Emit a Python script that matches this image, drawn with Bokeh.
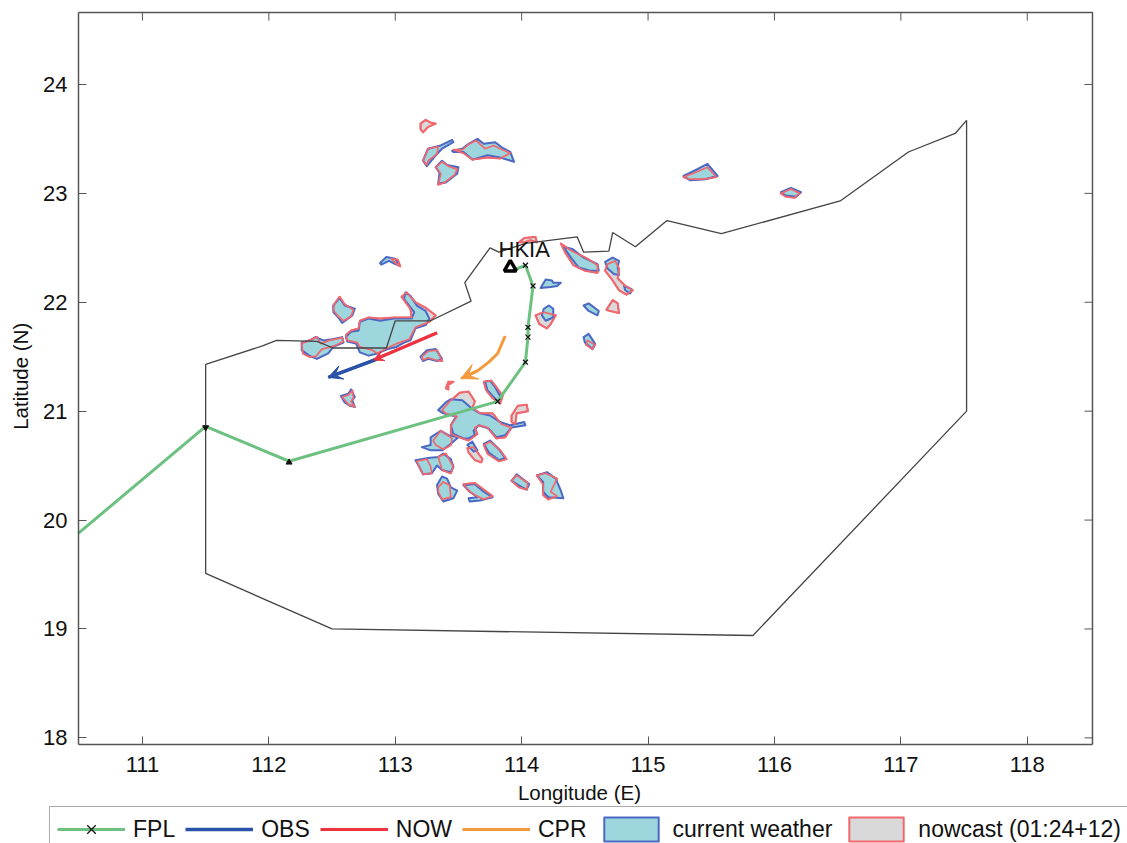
import math
from bokeh.plotting import figure
from bokeh.models import Legend, LegendItem, Arrow, VeeHead, FixedTicker, Range1d, LinearAxis
from bokeh.core.properties import value
from bokeh.embed import file_html
from bokeh.resources import INLINE

FONT = "Liberation Sans"
x_ticks = [111, 112, 113, 114, 115, 116, 117, 118]
y_ticks = [18, 19, 20, 21, 22, 23, 24]
x_lim = (110.494, 118.516)
y_lim = (17.94, 24.66)
# the drawing area spans the whole page so that the legend below the axes is not clipped
page_x = (109.877, 118.793)
page_y = (17.03, 24.771)

boundary_lon = [111.5, 111.95, 112.06, 112.38, 112.51, 112.93, 113.0, 113.28, 113.6, 113.55, 113.75, 113.82, 114.03, 114.44, 114.49, 114.69, 114.72, 114.9, 115.15, 115.58, 116.52, 117.06, 117.43, 117.52, 117.52, 115.83, 112.5, 111.5, 111.5]
boundary_lat = [21.43, 21.6, 21.65, 21.64, 21.58, 21.58, 21.83, 21.83, 22.01, 22.18, 22.5, 22.46, 22.54, 22.6, 22.46, 22.47, 22.64, 22.51, 22.75, 22.63, 22.93, 23.38, 23.55, 23.67, 21.0, 18.94, 19.0, 19.51, 21.43]

fpl_lon = [110.494, 111.5, 112.16, 113.81, 114.03, 114.05, 114.05, 114.09, 114.03, 113.93]
fpl_lat = [19.88, 20.86, 20.54, 21.09, 21.45, 21.68, 21.77, 22.15, 22.34, 22.29]
wpt_lon = [113.81, 114.03, 114.05, 114.05, 114.09, 114.03]
wpt_lat = [21.09, 21.45, 21.68, 21.77, 22.15, 22.34]
wpt2_lon = [111.5]
wpt2_lat = [20.85]
wpt3_lon = [112.16]
wpt3_lat = [20.53]

obs_lon = [112.86, 112.47]
obs_lat = [21.48, 21.31]
now_lon = [113.33, 112.83]
now_lat = [21.72, 21.47]
cpr_lon = [113.87, 113.81, 113.74, 113.65, 113.52]
cpr_lat = [21.69, 21.53, 21.45, 21.37, 21.3]

current_lons = [
 [112.61,112.65,112.71,112.72,112.79,112.88,112.99,113.13,113.15,113.11,113.07,113.08,113.12,113.17,113.24,113.27,113.24,113.16,113.12,113.07,113.01,112.94,112.86,112.79,112.72,112.69,112.62],
 [112.26,112.33,112.37,112.43,112.50,112.58,112.59,112.51,112.47,112.38,112.32,112.26],
 [112.51,112.56,112.60,112.68,112.66,112.58,112.55,112.51],
 [112.88,112.93,113.0,113.03,113.0,112.95,112.89],
 [113.20,113.25,113.32,113.37,113.33,113.26,113.22],
 [112.57,112.63,112.65,112.68,112.66,112.68,112.64,112.60],
 [113.71,113.75,113.79,113.83,113.82,113.77,113.73],
 [113.34,113.40,113.44,113.53,113.61,113.67,113.75,113.83,113.91,114.02,114.03,113.92,113.87,113.80,113.74,113.66,113.62,113.63,113.58,113.54,113.46,113.44,113.48,113.38],
 [113.21,113.28,113.28,113.36,113.42,113.50,113.44,113.37,113.28],
 [113.57,113.61,113.65,113.62],
 [113.70,113.75,113.82,113.87,113.82,113.74],
 [113.16,113.26,113.34,113.38,113.44,113.46,113.44,113.37,113.33,113.29,113.22,113.19],
 [113.33,113.37,113.41,113.44,113.49,113.46,113.38,113.34],
 [113.54,113.63,113.70,113.77,113.67,113.59,113.58,113.65,113.59],
 [113.92,113.96,114.06,114.04,113.99],
 [114.12,114.20,114.27,114.31,114.33,114.21,114.17,114.17],
 [113.22,113.26,113.36,113.45,113.46,113.37,113.32,113.25],
 [113.32,113.37,113.41,113.50,113.49,113.40,113.34,113.35],
 [113.45,113.53,113.58,113.65,113.70,113.79,113.84,113.91,113.94,113.83,113.73,113.61,113.54,113.46],
 [115.28,115.37,115.47,115.55,115.45,115.33],
 [116.05,116.13,116.21,116.17,116.09],
 [114.33,114.40,114.49,114.60,114.61,114.54,114.45,114.39],
 [114.66,114.72,114.77,114.76,114.77,114.73,114.68],
 [114.81,114.87,114.86,114.82],
 [114.15,114.19,114.24,114.25,114.31,114.28,114.23],
 [114.175,114.215,114.25,114.25,114.19,114.16],
 [114.49,114.53,114.61,114.60,114.53],
 [114.49,114.53,114.58,114.56,114.50],
]
current_lats = [
 [21.68,21.73,21.74,21.82,21.85,21.83,21.85,21.85,21.91,21.97,22.03,22.09,22.06,21.97,21.92,21.85,21.79,21.76,21.65,21.63,21.59,21.57,21.53,21.51,21.54,21.62,21.64],
 [21.63,21.65,21.68,21.65,21.66,21.68,21.63,21.59,21.53,21.48,21.51,21.56],
 [21.97,22.04,21.97,21.94,21.88,21.81,21.86,21.91],
 [22.36,22.415,22.40,22.34,22.35,22.38,22.345],
 [21.50,21.56,21.57,21.48,21.46,21.48,21.46],
 [21.14,21.16,21.20,21.13,21.10,21.04,21.05,21.08],
 [21.27,21.28,21.22,21.14,21.08,21.14,21.19],
 [21.01,21.08,21.11,21.10,21.02,20.98,20.96,20.90,20.87,20.90,20.87,20.85,20.78,20.76,20.84,20.87,20.82,20.78,20.75,20.75,20.79,20.87,20.95,20.98],
 [20.67,20.69,20.76,20.82,20.78,20.76,20.70,20.64,20.64],
 [20.69,20.72,20.64,20.63],
 [20.70,20.73,20.65,20.57,20.55,20.62],
 [20.55,20.57,20.58,20.61,20.56,20.49,20.44,20.46,20.50,20.43,20.42,20.49],
 [20.32,20.40,20.38,20.30,20.27,20.20,20.17,20.24],
 [20.32,20.33,20.26,20.21,20.18,20.17,20.20,20.21,20.26],
 [20.36,20.42,20.33,20.28,20.31],
 [20.41,20.44,20.38,20.27,20.20,20.21,20.26,20.35],
 [23.30,23.41,23.44,23.49,23.47,23.41,23.35,23.25],
 [23.24,23.30,23.26,23.24,23.18,23.10,23.09,23.19],
 [23.39,23.41,23.455,23.50,23.455,23.47,23.425,23.38,23.29,23.33,23.35,23.31,23.38,23.38],
 [23.16,23.21,23.27,23.16,23.13,23.12],
 [23.01,23.05,23.01,22.97,22.98],
 [22.51,22.49,22.41,22.35,22.29,22.29,22.32,22.41],
 [22.37,22.41,22.38,22.32,22.25,22.26,22.31],
 [22.15,22.12,22.08,22.11],
 [22.13,22.21,22.2,22.18,22.18,22.15,22.14],
 [21.94,21.97,21.94,21.86,21.83,21.88],
 [21.97,21.99,21.92,21.88,21.92],
 [21.68,21.71,21.62,21.57,21.63],
]

nowcast_lons = [
 [112.61,112.65,112.71,112.72,112.79,112.88,112.99,113.13,113.12,113.05,113.09,113.16,113.24,113.32,113.27,113.16,113.11,113.01,112.92,112.86,112.82,112.72,112.70,112.62],
 [112.26,112.34,112.38,112.41,112.48,112.58,112.59,112.52,112.42,112.37,112.32,112.27],
 [112.51,112.56,112.60,112.67,112.65,112.59,112.55,112.515],
 [112.97,113.02,113.04,113.0],
 [113.21,113.26,113.33,113.37,113.32,113.26,113.22],
 [112.58,112.63,112.66,112.67,112.65,112.68,112.63],
 [113.40,113.42,113.46,113.42,113.42],
 [113.70,113.76,113.80,113.85,113.83,113.77,113.72],
 [113.37,113.44,113.51,113.58,113.63,113.61,113.67,113.77,113.84,113.92,113.87,113.80,113.73,113.67,113.63,113.65,113.58,113.53,113.44,113.44,113.49,113.40],
 [113.92,113.92,113.97,114.04,114.05,113.96,113.95],
 [113.30,113.36,113.45,113.44,113.38,113.32],
 [113.57,113.62,113.69,113.68,113.63,113.58],
 [113.70,113.75,113.83,113.88,113.82,113.73],
 [113.17,113.25,113.28,113.29,113.22,113.19],
 [113.34,113.40,113.46,113.44,113.37],
 [113.34,113.38,113.43,113.44,113.37,113.34],
 [113.54,113.63,113.71,113.77,113.70,113.63,113.58],
 [113.92,113.96,114.05,114.04,113.98],
 [114.12,114.19,114.28,114.23,114.28,114.21,114.17,114.17],
 [113.20,113.24,113.28,113.32,113.26,113.22,113.20],
 [113.22,113.26,113.34,113.33,113.26,113.25],
 [113.32,113.37,113.42,113.49,113.47,113.39,113.34,113.36],
 [113.46,113.53,113.58,113.64,113.71,113.78,113.83,113.91,113.83,113.73,113.61,113.54],
 [115.28,115.37,115.47,115.54,115.44,115.33],
 [116.05,116.13,116.2,116.16,116.09],
 [114.31,114.39,114.52,114.60,114.60,114.50,114.41,114.35],
 [114.68,114.74,114.77,114.76,114.82,114.88,114.83,114.77,114.72,114.66],
 [114.11,114.175,114.27,114.23,114.2,114.14],
 [114.67,114.72,114.76,114.77,114.70],
 [114.52,114.58,114.56,114.51],
 [113.98,114.02,114.11,114.12,114.07,114.02],
]
nowcast_lats = [
 [21.70,21.74,21.76,21.83,21.86,21.85,21.86,21.86,21.94,22.05,22.09,22.0,21.95,21.88,21.82,21.77,21.66,21.62,21.57,21.53,21.56,21.59,21.63,21.65],
 [21.62,21.66,21.68,21.62,21.65,21.675,21.64,21.60,21.57,21.50,21.50,21.53],
 [21.97,22.05,21.98,21.93,21.87,21.83,21.87,21.92],
 [22.40,22.39,22.33,22.36],
 [21.50,21.55,21.56,21.46,21.47,21.49,21.47],
 [21.13,21.15,21.19,21.12,21.09,21.04,21.06],
 [21.21,21.27,21.27,21.24,21.20],
 [21.27,21.28,21.22,21.14,21.07,21.12,21.19],
 [21.01,21.10,21.17,21.18,21.09,21.03,20.98,20.98,20.88,20.85,20.76,20.75,20.85,20.87,20.85,20.79,20.73,20.75,20.79,20.87,20.95,20.98],
 [20.90,20.96,21.05,21.06,21.0,20.98,20.88],
 [20.73,20.82,20.75,20.69,20.65,20.69],
 [20.66,20.67,20.56,20.53,20.55,20.62],
 [20.69,20.72,20.64,20.56,20.54,20.61],
 [20.54,20.56,20.49,20.43,20.42,20.49],
 [20.58,20.61,20.49,20.43,20.46],
 [20.30,20.35,20.32,20.21,20.19,20.26],
 [20.33,20.34,20.27,20.22,20.19,20.23,20.27],
 [20.36,20.41,20.34,20.28,20.30],
 [20.41,20.43,20.38,20.26,20.22,20.19,20.23,20.33],
 [23.64,23.675,23.65,23.64,23.61,23.56,23.59],
 [23.30,23.41,23.43,23.36,23.30,23.26],
 [23.24,23.29,23.25,23.22,23.17,23.10,23.08,23.18],
 [23.40,23.40,23.45,23.485,23.41,23.44,23.41,23.37,23.32,23.33,23.31,23.37],
 [23.15,23.19,23.24,23.15,23.13,23.13],
 [23.0,23.04,23.0,22.96,22.97],
 [22.54,22.475,22.40,22.34,22.27,22.29,22.34,22.445],
 [22.35,22.38,22.31,22.22,22.15,22.11,22.07,22.11,22.2,22.29],
 [21.88,21.91,21.88,21.80,21.76,21.80],
 [21.93,22.02,21.99,21.90,21.92],
 [21.65,21.61,21.57,21.61],
 [22.55,22.59,22.60,22.55,22.57,22.55],
]

GREEN, BLUE, RED, ORANGE = "#6cc080", "#2a52a8", "#ee3340", "#f29a3c"
CELL_BLUE, CELL_RED = "#4a68c4", "#f0686e"
CYAN, GRAY = "#9ed6dd", "#d9d9d9"
FRAME = "#555555"

p = figure(frame_width=1127, frame_height=843, width=1127, height=843,
           x_range=Range1d(*page_x), y_range=Range1d(*page_y),
           x_axis_type=None, y_axis_type=None,
           output_backend="svg", toolbar_location=None,
           min_border_left=0, min_border_top=0, min_border_right=0, min_border_bottom=0)
p.grid.visible = False
p.outline_line_color = None

xax = LinearAxis(fixed_location=y_lim[0], bounds=x_lim, ticker=FixedTicker(ticks=x_ticks))
yax = LinearAxis(fixed_location=x_lim[0], bounds=y_lim, ticker=FixedTicker(ticks=y_ticks))
for ax in (xax, yax):
    ax.major_tick_in = 8
    ax.major_tick_out = 0
    ax.minor_tick_line_color = None
    ax.axis_line_color = FRAME
    ax.axis_line_width = 1.5
    ax.major_tick_line_color = FRAME
    ax.major_label_text_font = FONT
    ax.major_label_text_font_size = "22px"
    ax.major_label_text_color = "#111111"
xax.major_label_standoff = 13
yax.major_label_standoff = 11
p.add_layout(xax, "below")
p.add_layout(yax, "left")

# top and right edges of the box, with mirrored inward ticks
p.line([x_lim[0], x_lim[1], x_lim[1]], [y_lim[1], y_lim[1], y_lim[0]], line_color=FRAME, line_width=1.5)
p.ray(x_ticks, [y_lim[1]] * len(x_ticks), length=8, length_units="screen", angle=-math.pi / 2,
      line_color=FRAME, line_width=1)
p.ray([x_lim[1]] * len(y_ticks), y_ticks, length=8, length_units="screen", angle=math.pi,
      line_color=FRAME, line_width=1)

p.text([114.457], [17.50], text=["Longitude (E)"], text_align="center", text_baseline="middle",
       text_font=value(FONT), text_font_size="20.5px", text_color="#111111")
p.text([110.035], [21.32], text=["Latitude (N)"], angle=math.pi / 2, text_align="center", text_baseline="middle",
       text_font=value(FONT), text_font_size="20.5px", text_color="#111111")

r_now_fill = p.patches(nowcast_lons, nowcast_lats, fill_color=GRAY, line_color=CELL_RED, line_width=2, line_join="round")
r_cur = p.patches(current_lons, current_lats, fill_color=CYAN, line_color=CELL_BLUE, line_width=2, line_join="round")
p.patches(nowcast_lons, nowcast_lats, fill_color=None, line_color=CELL_RED, line_width=1.7, line_join="round")

p.line(boundary_lon, boundary_lat, line_color="#444444", line_width=1.3)

r_fpl = p.line(fpl_lon, fpl_lat, line_color=GREEN, line_width=3)
r_obs = p.line(obs_lon, obs_lat, line_color=BLUE, line_width=3.5)
r_now = p.line(now_lon, now_lat, line_color=RED, line_width=3)
r_cpr = p.line(cpr_lon, cpr_lat, line_color=ORANGE, line_width=3)

for lon, lat, col, head in ((obs_lon, obs_lat, BLUE, 14), (now_lon, now_lat, RED, 10), (cpr_lon, cpr_lat, ORANGE, 16)):
    p.add_layout(Arrow(end=VeeHead(size=head, fill_color=col, line_color=col, line_width=1),
                       x_start=lon[-2], y_start=lat[-2], x_end=lon[-1], y_end=lat[-1],
                       line_color=col, line_width=3))

r_wpt = p.scatter(wpt_lon, wpt_lat, marker="x", size=7, line_color="#111111", line_width=1.3)
p.scatter(wpt2_lon, wpt2_lat, marker="inverted_triangle", size=6, fill_color="#111111", line_color="#111111")
p.scatter(wpt3_lon, wpt3_lat, marker="triangle", size=6, fill_color="#111111", line_color="#111111")

p.scatter([113.91], [22.32], marker="triangle", size=12, fill_color="white", line_color="black", line_width=3.5)
p.text([114.02], [22.48], text=["HKIA"], text_align="center", text_baseline="middle",
       text_font=value(FONT), text_font_size="22px", text_color="#111111")

legend = Legend(items=[
    LegendItem(label="FPL", renderers=[r_fpl, r_wpt]),
    LegendItem(label="OBS", renderers=[r_obs]),
    LegendItem(label="NOW", renderers=[r_now]),
    LegendItem(label="CPR", renderers=[r_cpr]),
    LegendItem(label="current weather", renderers=[r_cur]),
    LegendItem(label="nowcast (01:24+12)", renderers=[r_now_fill]),
], orientation="horizontal", location=(49, -9), margin=0, padding=7, spacing=10,
   glyph_width=68, glyph_height=30, label_standoff=8, label_height=30,
   label_text_font=FONT, label_text_font_size="23px", label_text_color="#111111",
   border_line_color=FRAME, border_line_width=1.5, background_fill_alpha=1)
p.add_layout(legend, "center")

open("out.html", "w").write(file_html(p, INLINE))
